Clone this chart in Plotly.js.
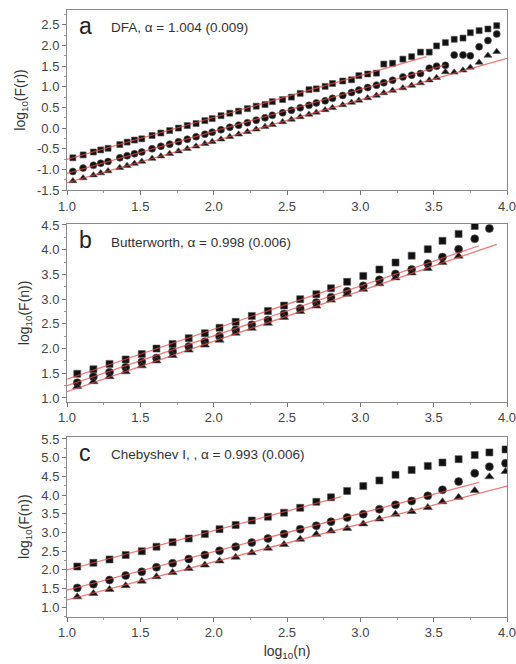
<!DOCTYPE html>
<html>
<head>
<meta charset="utf-8">
<script src="https://cdn.plot.ly/plotly-3.0.1.min.js"></script>
<style>
  html, body { margin: 0; padding: 0; background: #fff; }
  #chart { width: 516px; height: 664px; }
</style>
</head>
<body>
<div id="chart"></div>
<script>
// ---- Panel a: DFA ----
const xA = [1.04, 1.11, 1.18, 1.23, 1.28, 1.36, 1.41, 1.46, 1.51, 1.58,
            1.64, 1.70, 1.76, 1.82, 1.88, 1.94, 1.99, 2.05, 2.11, 2.17,
            2.23, 2.29, 2.35, 2.40, 2.47, 2.53, 2.59, 2.65, 2.70, 2.76,
            2.81, 2.88, 2.94, 2.99, 3.05, 3.11, 3.16, 3.22, 3.29, 3.35,
            3.41, 3.47, 3.52, 3.58, 3.64, 3.70, 3.75, 3.81, 3.87, 3.93];
const aSquare = [-0.72, -0.65, -0.58, -0.53, -0.49, -0.40, -0.34, -0.29, -0.26, -0.18,
                 -0.12, -0.06, 0.00, 0.06, 0.11, 0.18, 0.23, 0.30, 0.36, 0.41,
                 0.47, 0.53, 0.57, 0.64, 0.69, 0.75, 0.84, 0.93, 0.95, 1.01,
                 1.08, 1.14, 1.17, 1.27, 1.31, 1.33, 1.55, 1.57, 1.67, 1.73,
                 1.84, 1.84, 1.99, 2.07, 2.15, 2.18, 2.31, 2.36, 2.40, 2.48];
const aCircle = [-1.05, -0.97, -0.90, -0.85, -0.81, -0.72, -0.67, -0.62, -0.58, -0.50,
                 -0.44, -0.39, -0.33, -0.27, -0.21, -0.15, -0.10, -0.04, 0.02, 0.07,
                 0.13, 0.19, 0.25, 0.31, 0.37, 0.43, 0.49, 0.55, 0.61, 0.66,
                 0.72, 0.79, 0.86, 0.92, 0.98, 1.04, 1.10, 1.16, 1.24, 1.28,
                 1.32, 1.45, 1.50, 1.52, 1.77, 1.77, 1.75, 1.97, 2.12, 2.28];
const aTriangle = [-1.28, -1.21, -1.14, -1.09, -1.04, -0.96, -0.91, -0.86, -0.81, -0.74,
                   -0.68, -0.62, -0.56, -0.50, -0.44, -0.38, -0.33, -0.27, -0.21, -0.15,
                   -0.09, -0.03, 0.03, 0.08, 0.15, 0.21, 0.27, 0.33, 0.38, 0.44,
                   0.49, 0.56, 0.62, 0.67, 0.73, 0.79, 0.85, 0.91, 0.97, 1.03,
                   1.09, 1.16, 1.22, 1.36, 1.35, 1.40, 1.47, 1.59, 1.76, 1.85];
// fitted lines: [square, circle, triangle]
const aFitX0 = [1.0, 1.0, 1.0];
const aFitX1 = [3.45, 3.58, 4.0];
const aFitY0 = [-0.76, -1.10, -1.32];
const aFitY1 = [1.73, 1.53, 1.69];

// ---- Panels b and c share the scale points ----
const xBC = [1.07, 1.18, 1.29, 1.40, 1.51, 1.61, 1.72, 1.83, 1.94, 2.04,
             2.15, 2.26, 2.37, 2.48, 2.59, 2.70, 2.80, 2.91, 3.02, 3.13,
             3.24, 3.35, 3.46, 3.56, 3.67, 3.78, 3.88, 3.99];

// ---- Panel b: Butterworth ----
const bSquare = [1.49, 1.58, 1.69, 1.78, 1.89, 2.00, 2.09, 2.21, 2.31, 2.42,
                 2.54, 2.66, 2.76, 2.87, 3.00, 3.10, 3.22, 3.35, 3.47, 3.60,
                 3.74, 3.88, 4.01, 4.18, 4.32, 4.48];
const bCircle = [1.31, 1.43, 1.52, 1.62, 1.73, 1.81, 1.94, 2.04, 2.14, 2.25,
                 2.38, 2.48, 2.58, 2.70, 2.81, 2.93, 3.04, 3.16, 3.27, 3.39,
                 3.51, 3.60, 3.72, 3.85, 4.01, 4.22, 4.43];
const bTriangle = [1.23, 1.33, 1.43, 1.53, 1.65, 1.75, 1.86, 1.97, 2.07, 2.17,
                   2.31, 2.41, 2.51, 2.63, 2.75, 2.86, 2.98, 3.10, 3.20, 3.31,
                   3.43, 3.53, 3.62, 3.74, 3.87];
const bFitX0 = [1.0, 1.0, 1.0];
const bFitX1 = [2.87, 3.81, 3.93];
const bFitY0 = [1.38, 1.25, 1.13];
const bFitY1 = [3.27, 4.08, 4.11];

// ---- Panel c: Chebyshev I ----
const cSquare = [2.09, 2.19, 2.28, 2.40, 2.50, 2.62, 2.74, 2.84, 2.96, 3.09,
                 3.20, 3.32, 3.42, 3.53, 3.66, 3.82, 3.94, 4.11, 4.24, 4.39,
                 4.54, 4.67, 4.78, 4.87, 4.96, 5.07, 5.14, 5.22];
const cCircle = [1.52, 1.62, 1.73, 1.85, 1.95, 2.07, 2.18, 2.29, 2.40, 2.51,
                 2.62, 2.73, 2.84, 2.96, 3.09, 3.18, 3.29, 3.40, 3.49, 3.62,
                 3.74, 3.84, 3.98, 4.14, 4.36, 4.58, 4.76, 4.85];
const cTriangle = [1.28, 1.37, 1.48, 1.58, 1.70, 1.82, 1.93, 2.04, 2.13, 2.24,
                   2.34, 2.46, 2.58, 2.68, 2.82, 2.95, 3.04, 3.11, 3.23, 3.36,
                   3.49, 3.56, 3.67, 3.82, 3.94, 4.12, 4.49, 4.63];
const cFitX0 = [1.0, 1.0, 1.0];
const cFitX1 = [2.87, 3.81, 4.0];
const cFitY0 = [2.00, 1.46, 1.20];
const cFitY1 = [3.96, 4.34, 4.24];

// ---- Axis ticks and panel texts ----
const xTicks = [1.0, 1.5, 2.0, 2.5, 3.0, 3.5, 4.0];
const yTicksA = [-1.5, -1.0, -0.5, 0.0, 0.5, 1.0, 1.5, 2.0, 2.5];
const yTicksB = [1.0, 1.5, 2.0, 2.5, 3.0, 3.5, 4.0, 4.5];
const yTicksC = [1.0, 1.5, 2.0, 2.5, 3.0, 3.5, 4.0, 4.5, 5.0, 5.5];
const panelLetters = ['a', 'b', 'c'];
const panelNotes = ['DFA, \u03b1 = 1.004 (0.009)',
                    'Butterworth, \u03b1 = 0.998 (0.006)',
                    'Chebyshev I, , \u03b1 = 0.993 (0.006)'];
const yTitles = ['log<sub>10</sub>(F(r))', 'log<sub>10</sub>(F(n))', 'log<sub>10</sub>(F(n))'];
const xTitle = 'log<sub>10</sub>(n)';

// ---- Drawing ----
const W = 516, H = 664;
const FONT = 'Arial, "Liberation Sans", sans-serif';
const fitColor = 'rgba(236, 70, 70, 0.72)';
const markerColor = '#111111';

// plot-area frames in pixels (left, right, top, bottom) and y ranges
const frames = [
  { l: 67, r: 507, t: 10, b: 190, yr: [-1.5, 2.86], yt: yTicksA },
  { l: 67, r: 507, t: 224, b: 401.7, yr: [0.925, 4.52], yt: yTicksB },
  { l: 67, r: 507, t: 436.7, b: 616.7, yr: [0.75, 5.56], yt: yTicksC }
];

const panels = [
  { x: xA, s: aSquare, c: aCircle, t: aTriangle, fx0: aFitX0, fx1: aFitX1, fy0: aFitY0, fy1: aFitY1, msz: 6 },
  { x: xBC, s: bSquare, c: bCircle, t: bTriangle, fx0: bFitX0, fx1: bFitX1, fy0: bFitY0, fy1: bFitY1, msz: 7 },
  { x: xBC, s: cSquare, c: cCircle, t: cTriangle, fx0: cFitX0, fx1: cFitX1, fy0: cFitY0, fy1: cFitY1, msz: 7 }
];

const traces = [];
const layout = {
  width: W, height: H,
  margin: { l: 0, r: 0, t: 0, b: 0 },
  paper_bgcolor: '#ffffff',
  plot_bgcolor: '#ffffff',
  showlegend: false,
  font: { family: FONT, size: 13, color: '#333' },
  annotations: []
};

panels.forEach((p, i) => {
  const xa = i === 0 ? 'x' : 'x' + (i + 1);
  const ya = i === 0 ? 'y' : 'y' + (i + 1);
  const series = [
    { y: p.s, sym: 'square', size: p.msz },
    { y: p.c, sym: 'circle', size: p.msz + 1 },
    { y: p.t, sym: 'triangle-up', size: p.msz + 1 }
  ];
  series.forEach(sr => {
    traces.push({
      x: p.x.slice(0, sr.y.length), y: sr.y,
      xaxis: xa, yaxis: ya, type: 'scatter', mode: 'markers',
      marker: { symbol: sr.sym, size: sr.size, color: markerColor,
                line: { width: 0.6, color: '#555' } },
      cliponaxis: true
    });
  });
  // fitted lines run over the markers
  for (let k = 0; k < 3; k++) {
    traces.push({
      x: [p.fx0[k], p.fx1[k]], y: [p.fy0[k], p.fy1[k]],
      xaxis: xa, yaxis: ya, type: 'scatter', mode: 'lines',
      line: { color: fitColor, width: 1.3 }, hoverinfo: 'skip'
    });
  }

  const f = frames[i];
  const xKey = i === 0 ? 'xaxis' : 'xaxis' + (i + 1);
  const yKey = i === 0 ? 'yaxis' : 'yaxis' + (i + 1);
  const axCommon = {
    showgrid: false, zeroline: false,
    showline: true, linecolor: '#8a8a8a', linewidth: 1, mirror: true,
    ticks: 'outside', ticklen: 4, tickwidth: 1, tickcolor: '#777',
    tickfont: { family: FONT, size: 13, color: '#444' },
    ticklabeloverflow: 'allow',
    minor: { ticks: 'outside', ticklen: 2, tickwidth: 1, tickcolor: '#999', dtick: 0.25 }
  };
  const xa_ = Object.assign({}, axCommon, {
    domain: [f.l / W, f.r / W],
    range: [1.0, 4.0], tickmode: 'array', tickvals: xTicks,
    ticktext: xTicks.map(v => v.toFixed(1)),
    anchor: ya
  });
  if (i === 2) xa_.title = { text: xTitle, font: { family: FONT, size: 14, color: '#333' }, standoff: 6 };
  layout[xKey] = xa_;
  layout[yKey] = Object.assign({}, axCommon, {
    domain: [1 - f.b / H, 1 - f.t / H],
    range: f.yr, tickmode: 'array', tickvals: f.yt,
    ticktext: f.yt.map(v => v.toFixed(1)),
    anchor: xa,
    title: { text: yTitles[i], font: { family: FONT, size: 14, color: '#333' }, standoff: 8 }
  });

  layout.annotations.push({
    xref: 'paper', yref: 'paper', x: 77 / W, y: 1 - (f.t + 16) / H,
    xanchor: 'left', yanchor: 'middle', showarrow: false,
    text: panelLetters[i], font: { family: FONT, size: 23, color: '#222' }
  });
  layout.annotations.push({
    xref: 'paper', yref: 'paper', x: 109 / W, y: 1 - (f.t + 18) / H,
    xanchor: 'left', yanchor: 'middle', showarrow: false,
    text: panelNotes[i], font: { family: FONT, size: 13.5, color: '#333' }
  });
});

Plotly.newPlot('chart', traces, layout, { staticPlot: true, displayModeBar: false });
</script>
</body>
</html>
